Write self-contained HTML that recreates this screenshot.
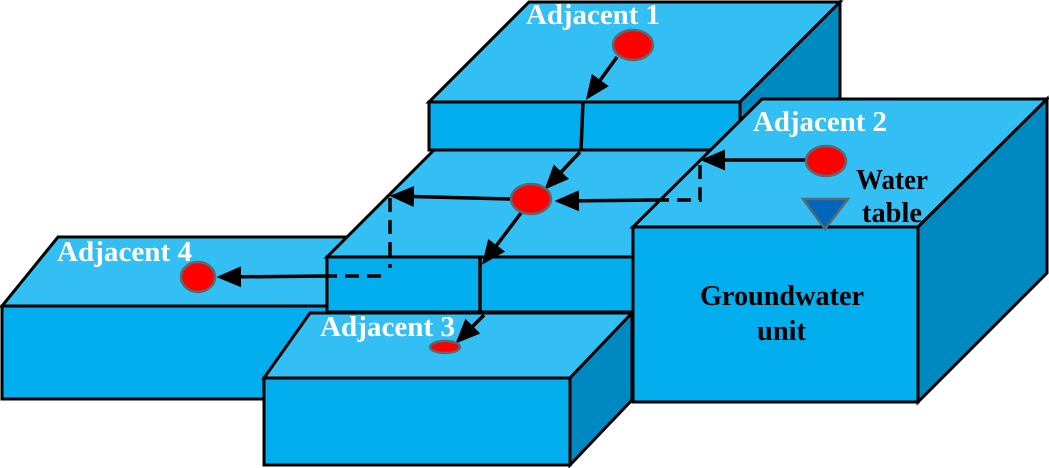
<!DOCTYPE html>
<html><head><meta charset="utf-8"><style>
html,body{margin:0;padding:0;background:#fff;}
svg{display:block;}
</style></head><body>
<svg width="1049" height="468" viewBox="0 0 1049 468" xmlns="http://www.w3.org/2000/svg">
<defs>
<marker id="ah" markerWidth="7" markerHeight="6" refX="6" refY="3" orient="auto" markerUnits="strokeWidth">
<path d="M0,0 L7,3 L0,6 Z" fill="#000"/>
</marker>
</defs>
<g stroke="#000" stroke-width="3" stroke-linejoin="miter">
<polygon points="529,2 840,2 740,102 429,102" fill="#33bff3"/>
<polygon points="740,102 840,2 840,110 740,150" fill="#0089c0"/>
<polygon points="429,102 740,102 740,150 429,150" fill="#03aeee"/>
<polygon points="58,237 352,237 327,262 327,306 2,306" fill="#33bff3"/>
<polygon points="2,306 330,306 330,399 2,399" fill="#03aeee"/>
<polygon points="434,150 730,150 640,257 327,257" fill="#33bff3"/>
<polygon points="327,257 640,257 640,312 327,312" fill="#03aeee"/>
<polygon points="310,313 632,313 570,378 264,378" fill="#33bff3"/>
<polygon points="570,378 632,313 632,400 570,465" fill="#0089c0"/>
<polygon points="264,378 570,378 570,465 264,465" fill="#03aeee"/>
<polygon points="762,99 1047,99 918,227 633,227" fill="#33bff3"/>
<polygon points="918,227 1047,99 1047,273 918,402" fill="#0089c0"/>
<polygon points="633,227 918,227 918,402 633,402" fill="#03aeee"/>
</g>
<g stroke="#000" stroke-width="3.5" fill="none" stroke-dasharray="14,8">
<polyline points="390,198 390,268"/>
<polyline points="381,276 330,276"/>
<polyline points="700,165 700,200 660,200"/>
</g>
<g stroke="#000" stroke-width="3.5" fill="none">
<line x1="617" y1="57" x2="588" y2="97" marker-end="url(#ah)"/>
<polyline points="583,102 581,150"/>
<line x1="580" y1="152" x2="547" y2="187" marker-end="url(#ah)"/>
<line x1="510" y1="199" x2="393" y2="196" marker-end="url(#ah)"/>
<line x1="330" y1="276" x2="220" y2="277" marker-end="url(#ah)"/>
<line x1="806" y1="160" x2="704" y2="160" marker-end="url(#ah)"/>
<line x1="660" y1="200" x2="558" y2="201" marker-end="url(#ah)"/>
<line x1="521" y1="213" x2="484" y2="262" marker-end="url(#ah)"/>
<polyline points="480,257 480,312"/>
<line x1="484" y1="315" x2="458" y2="341" marker-end="url(#ah)"/>
</g>
<g fill="#ff0000" stroke="#5a6a70" stroke-width="2.5">
<ellipse cx="633" cy="45" rx="20" ry="15"/>
<ellipse cx="531" cy="199" rx="20" ry="15"/>
<ellipse cx="826" cy="161" rx="20" ry="15"/>
<ellipse cx="198" cy="277" rx="17" ry="15"/>
<ellipse cx="445" cy="347" rx="15" ry="6"/>
</g>
<polygon points="803,199 848,199 825,229" fill="#0066bb" stroke="#5a6a70" stroke-width="2.5"/>
<g fill="#fff" font-size="28" font-weight="bold" font-family="Liberation Serif, serif">
<text x="526" y="24" textLength="134" lengthAdjust="spacingAndGlyphs">Adjacent 1</text>
<text x="753" y="131" textLength="134" lengthAdjust="spacingAndGlyphs">Adjacent 2</text>
<text x="57" y="261" textLength="135" lengthAdjust="spacingAndGlyphs">Adjacent 4</text>
<text x="320" y="336" textLength="135" lengthAdjust="spacingAndGlyphs">Adjacent 3</text>
</g>
<g fill="#000" font-size="28" font-weight="bold" font-family="Liberation Serif, serif">
<text x="856" y="189" textLength="72" lengthAdjust="spacingAndGlyphs">Water</text>
<text x="862" y="222" textLength="60" lengthAdjust="spacingAndGlyphs">table</text>
<text x="700" y="305" textLength="164" lengthAdjust="spacingAndGlyphs">Groundwater</text>
<text x="757" y="340" textLength="49" lengthAdjust="spacingAndGlyphs">unit</text>
</g>
</svg>
</body></html>
